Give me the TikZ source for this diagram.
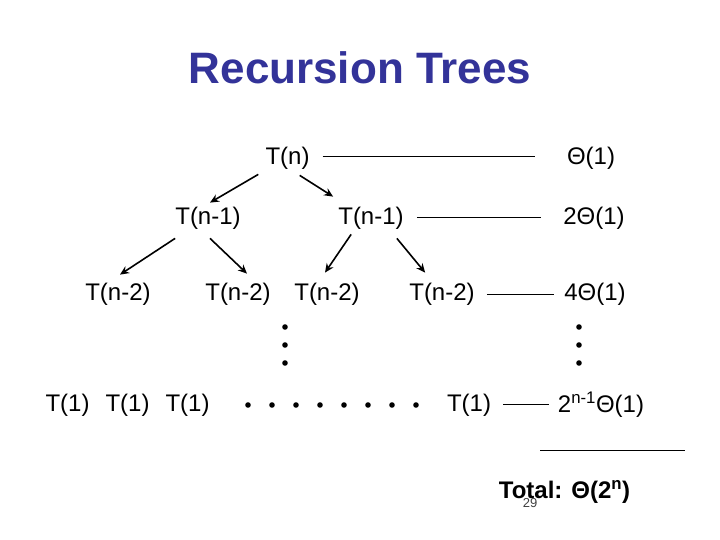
\documentclass[tikz,border=0pt]{standalone}
\usepackage{fontspec}
\setmainfont{Liberation Sans}
\usepackage{xcolor}
\usetikzlibrary{arrows.meta,positioning,calc}
\definecolor{titleblue}{RGB}{51,51,153}

\begin{document}
\begin{tikzpicture}[
  x=1pt,
  y=-1pt,
  font=\fontsize{24}{28}\selectfont,
  >={Stealth[length=9pt,width=8pt]},
  term/.style={inner sep=0pt, anchor=center},
  cost/.style={inner sep=0pt, anchor=center},
  split/.style={->, line width=1.6pt, draw=black},
  rule/.style={line width=0.8pt, draw=black},
  dot/.style={fill=black}
]

\useasboundingbox (0,0) rectangle (720,540);

\node[font=\fontsize{44}{50}\selectfont\bfseries, text=titleblue] (title)
  at (360,68) {Recursion Trees};

% tree levels
\node[term] (Tn)   at (287.5,158) {T(n)};
\node[term] (Tn1a) at (208,218) {T(n-1)};
\node[term] (Tn1b) at (371,218) {T(n-1)};
\node[term] (Tn2a) at (118,294) {T(n-2)};
\node[term] (Tn2b) at (238,294) {T(n-2)};
\node[term] (Tn2c) at (327,294) {T(n-2)};
\node[term] (Tn2d) at (442,294) {T(n-2)};
\node[term] (T1a)  at (67.5,405) {T(1)};
\node[term] (T1b)  at (127.5,405) {T(1)};
\node[term] (T1c)  at (187.5,405) {T(1)};
\node[term] (T1d)  at (469,405) {T(1)};

% cost per level
\node[cost] (c0) at (591,158) {Θ(1)};
\node[cost] (c1) at (594,218) {2Θ(1)};
\node[cost] (c2) at (595,294) {4Θ(1)};
\node[cost] (c3) at (601,405) {2\textsuperscript{n-1}Θ(1)};

\draw[split] ([xshift=-7pt,yshift=-5pt]Tn.south west) -- ([xshift=2pt,yshift=4pt]Tn1a.north);
\draw[split] ([xshift=-10pt,yshift=-6pt]Tn.south east) -- ([xshift=-5pt,yshift=10pt]Tn1b.north west);
\draw[split] ([yshift=-9pt]Tn1a.south west) -- ([xshift=2pt,yshift=8pt]Tn2a.north);
\draw[split] ([xshift=2pt,yshift=-9pt]Tn1a.south) -- ([xshift=9pt,yshift=9pt]Tn2b.north);
\draw[split] ([xshift=13pt,yshift=-5pt]Tn1b.south west) -- ([xshift=-2pt,yshift=10pt]Tn2c.north);
\draw[split] ([xshift=-7pt,yshift=-9pt]Tn1b.south east) -- ([xshift=16pt,yshift=10pt]Tn2d.north west);

\draw[rule] ([xshift=13pt,yshift=2pt]Tn.east) -- ([xshift=-32pt,yshift=2pt]c0.west);
\draw[rule] ([xshift=13pt,yshift=1pt]Tn1b.east) -- ([xshift=-22pt,yshift=1pt]c1.west);
\draw[rule] ([xshift=12pt]Tn2d.east) -- ([xshift=-10pt]c2.west);
\draw[rule] ([xshift=12pt,yshift=1pt]T1d.east) -- ([xshift=-9pt,yshift=1pt]c3.west);

% ellipses
\foreach \y in {327,345,363} {
  \fill[dot] (285,\y) circle (2.8pt);
  \fill[dot] (579,\y) circle (2.8pt);
}
\foreach \i in {0,...,7}
  \fill[dot] (248+24*\i,405) circle (2.8pt);

% total
\coordinate (sumL) at (540,450);
\coordinate (sumR) at (685,450);
\draw[rule] (sumL) -- (sumR);
\node[font=\fontsize{24}{28}\selectfont\bfseries, inner sep=0pt] (total)
  at (564.5,492) {Total: Θ(2\textsuperscript{n})};
\node[font=\fontsize{13}{15}\selectfont, text=black!75, inner sep=0pt] (page)
  at (530,503) {29};

\end{tikzpicture}
\end{document}
